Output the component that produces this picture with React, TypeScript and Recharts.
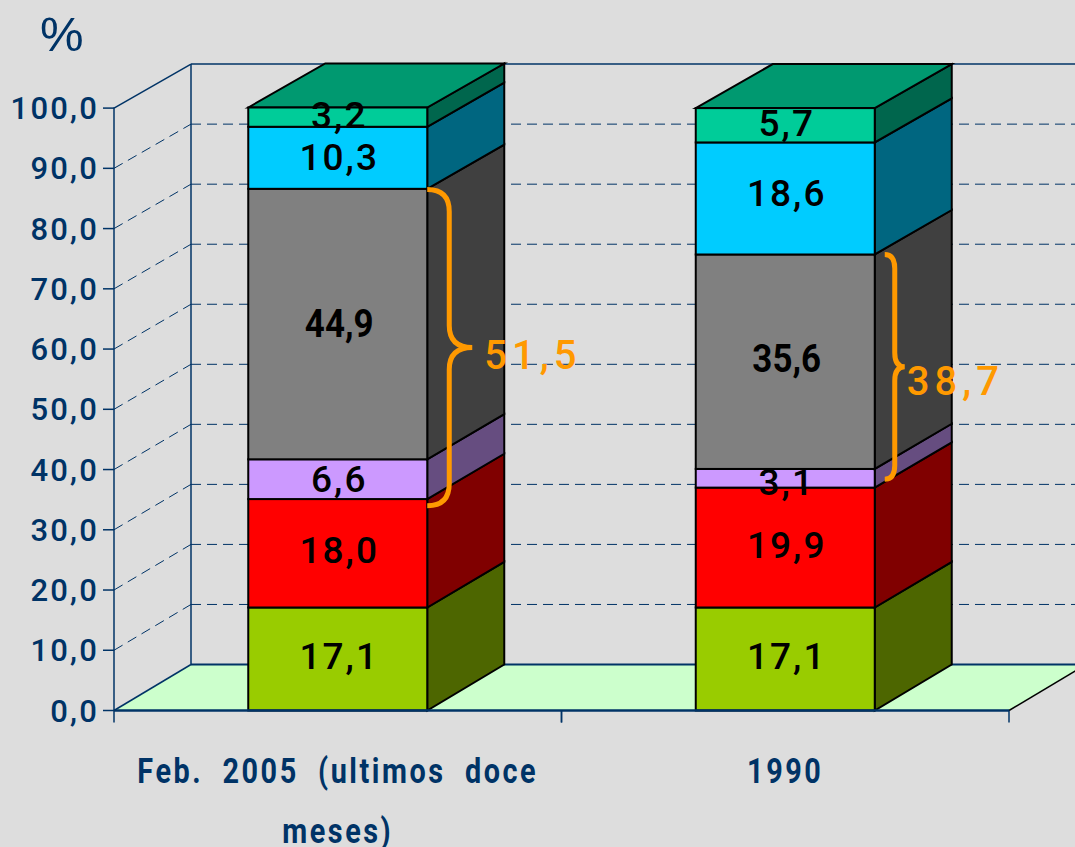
import React from 'react';
import { ComposedChart, Bar, XAxis, YAxis, LabelList, ReferenceArea, ReferenceLine } from 'recharts';

const categories = ['Feb. 2005 (ultimos doce meses)', '1990'];
const categoryLines = [['Feb. 2005 (ultimos doce', 'meses)'], ['1990']];
const seg1 = [17.1, 17.1];
const seg2 = [18.0, 19.9];
const seg3 = [6.6, 3.1];
const seg4 = [44.9, 35.6];
const seg5 = [10.3, 18.6];
const seg6 = [3.2, 5.7];
const yTicks = [0, 10, 20, 30, 40, 50, 60, 70, 80, 90, 100];
const gridTicks = [10, 20, 30, 40, 50, 60, 70, 80, 90];
const braceFrom = [34.0, 38.4];
const braceTo = [86.5, 75.7];
const braceLabels = ['51,5', '38,7'];

const W = 1075, H = 847;
const LEFT = 114, RIGHT = 1009, TOP = 107.5, BOTTOM = 710.5;
const DX = 77;
// The depth of the drawing shrinks a little from the floor to the top.
const dyAt = (y: number) => 44 + (2 * (y - TOP)) / (BOTTOM - TOP);
const NAVY = '#003366';
const ORANGE = '#FF9900';
const FONT = 'Roboto, "Liberation Sans", sans-serif';

const rows = categories.map((name, i) => ({
  name, seg1: seg1[i], seg2: seg2[i], seg3: seg3[i], seg4: seg4[i], seg5: seg5[i], seg6: seg6[i],
}));

const series = [
  { key: 'seg1', front: '#99CC00', side: '#4D6600' },
  { key: 'seg2', front: '#FF0000', side: '#800000' },
  { key: 'seg3', front: '#CC99FF', side: '#664D80' },
  { key: 'seg4', front: '#808080', side: '#404040' },
  { key: 'seg5', front: '#00CCFF', side: '#006680' },
  { key: 'seg6', front: '#00CC99', side: '#00664D', top: '#009970' },
];

const box3d = (s: any) => (p: any) => {
  const { x, y, width, height } = p;
  const r = x + width, b = y + height;
  const ty = y - dyAt(y), by = b - dyAt(b);
  return (
    <g stroke="#000" strokeWidth={2} strokeLinejoin="miter">
      <polygon points={`${r},${y} ${r + DX},${ty} ${r + DX},${by} ${r},${b}`} fill={s.side} />
      {s.top && <polygon points={`${x},${y} ${x + DX},${ty} ${r + DX},${ty} ${r},${y}`} fill={s.top} />}
      <rect x={x} y={y} width={width} height={height} fill={s.front} />
    </g>
  );
};

const fmt = (v: any) => Number(v).toFixed(1).replace('.', ',');

// Floor and back walls: the area spans the whole value range of the plot.
const Walls = (p: any) => {
  const { x, y, width, height } = p;
  const l = x, r = x + width, t = y, b = y + height;
  const bb = b - dyAt(b), tt = t - dyAt(t);
  return (
    <g>
      <polygon points={`${l},${b} ${l + DX},${bb} ${r + DX},${bb} ${r},${b}`} fill="#CCFFCC" />
      <line x1={r} y1={b} x2={r + DX} y2={bb} stroke="#000" strokeWidth={1.5} />
      <line x1={l} y1={b} x2={l + DX} y2={bb} stroke={NAVY} strokeWidth={1.5} />
      <line x1={l + DX} y1={bb} x2={r + DX} y2={bb} stroke={NAVY} strokeWidth={2} />
      <line x1={l + DX} y1={bb} x2={l + DX} y2={tt} stroke={NAVY} strokeWidth={1.5} />
      <line x1={l} y1={t} x2={l + DX} y2={tt} stroke={NAVY} strokeWidth={1.5} />
      <line x1={l + DX} y1={tt} x2={r + DX} y2={tt} stroke={NAVY} strokeWidth={1.5} />
    </g>
  );
};

const WallGrid = (p: any) => {
  const { x1, y1, x2 } = p;
  const by = y1 - dyAt(y1);
  return (
    <g stroke={NAVY} strokeWidth={1} strokeDasharray="10 6" fill="none">
      <line x1={x1} y1={y1} x2={x1 + DX} y2={by} />
      <line x1={x1 + DX} y1={by} x2={x2 + DX} y2={by} />
    </g>
  );
};

const YTick = (p: any) => {
  const { x, y, payload } = p;
  return (
    <text x={x} y={y + 11} textAnchor="end" fill={NAVY} fontFamily={FONT} fontWeight={500} fontSize={31} letterSpacing={2.2}>
      {fmt(payload.value)}
    </text>
  );
};

const XTick = (p: any) => {
  const { x, y, index } = p;
  const band = (RIGHT - LEFT) / categories.length;
  return (
    <g>
      <line x1={x - band / 2} y1={y} x2={x - band / 2} y2={y + 12} stroke={NAVY} strokeWidth={1.5} />
      <line x1={x + band / 2} y1={y} x2={x + band / 2} y2={y + 12} stroke={NAVY} strokeWidth={1.5} />
      {categoryLines[index].map((t, i) => (
        <text key={t} transform={`translate(${x},${y + 72 + i * 60}) scale(0.8,1)`} textAnchor="middle" fill={NAVY} fontFamily={FONT} fontWeight={700} fontSize={36} letterSpacing={3.2} wordSpacing={12}>
          {t}
        </text>
      ))}
    </g>
  );
};

const Brace = (i: number) => (p: any) => {
  const { x, y, width, height } = p;
  const barRight = x + width * 0.7;
  const bottom = y + height;
  const mid = y + height * 0.5;
  const x0 = i === 0 ? barRight : barRight + 10;
  const w = i === 0 ? 22 : 10;
  const tip = i === 0 ? 45 : 20;
  const r = i === 0 ? 22 : 14;
  const d = `M${x0},${y} Q${x0 + w},${y} ${x0 + w},${y + r} L${x0 + w},${mid - r} Q${x0 + w},${mid} ${x0 + tip},${mid} Q${x0 + w},${mid} ${x0 + w},${mid + r} L${x0 + w},${bottom - r} Q${x0 + w},${bottom} ${x0},${bottom}`;
  return (
    <g>
      <path d={d} fill="none" stroke={ORANGE} strokeWidth={5} />
      <text x={i === 0 ? barRight + 57 : barRight + 32} y={i === 0 ? mid + 21 : mid + 28} fill={ORANGE} fontFamily={FONT} fontWeight={500} fontSize={40} letterSpacing={5}>
        {braceLabels[i]}
      </text>
    </g>
  );
};

const labelNudge: Record<string, number> = { '18,6': -5, '3,1': 4, '18,0': -3, '19,9': -3, '5,7': -2, '10,3': -1, '17,1': -3, '3,2': -2, '35,6': -3 };

const SegLabel = (isBold: boolean) => (p: any) => {
  const { x, y, width, height, value } = p;
  const t = fmt(value);
  const cx = x + width / 2 + 1.5;
  const cy = y + height / 2 + 13 + (labelNudge[t] || 0);
  if (isBold) {
    return (
      <text transform={`translate(${cx},${cy}) scale(0.92,1)`} textAnchor="middle" fill="#000" fontFamily={FONT} fontWeight={700} fontSize={38}>
        {t}
      </text>
    );
  }
  return (
    <text x={cx} y={cy} textAnchor="middle" fill="#000" fontFamily={FONT} fontWeight={500} fontSize={37} letterSpacing={2}>
      {t}
    </text>
  );
};

export default function App() {
  return (
    <div style={{ position: 'fixed', left: 0, top: 0, width: W, height: H, background: '#DDDDDD', overflow: 'hidden' }}>
      <ComposedChart
        width={W}
        height={H}
        data={rows}
        barCategoryGap="30%"
        margin={{ top: TOP, right: W - RIGHT, bottom: 0, left: 0 }}
      >
        <YAxis
          type="number"
          domain={[0, 100]}
          ticks={yTicks}
          interval={0}
          width={LEFT}
          tick={YTick}
          tickSize={11}
          tickMargin={4}
          axisLine={{ stroke: NAVY, strokeWidth: 1.5 }}
          tickLine={{ stroke: NAVY, strokeWidth: 1.5 }}
        />
        <XAxis
          dataKey="name"
          height={H - BOTTOM}
          tick={XTick}
          tickSize={0}
          tickMargin={0}
          tickLine={false}
          interval={0}
          axisLine={{ stroke: NAVY, strokeWidth: 2.5 }}
        />
        <ReferenceArea y1={0} y2={100} ifOverflow="visible" shape={Walls} zIndex={-20} />
        {gridTicks.map((t) => (
          <ReferenceLine key={t} y={t} ifOverflow="visible" shape={WallGrid} zIndex={-10} />
        ))}
        {series.map((s) => (
          <Bar key={s.key} dataKey={s.key} stackId="a" isAnimationActive={false} shape={box3d(s)}>
            <LabelList dataKey={s.key} position="center" content={SegLabel(s.key === 'seg4')} />
          </Bar>
        ))}
        {categories.map((c, i) => (
          <ReferenceArea key={c} x1={c} x2={c} y1={braceFrom[i]} y2={braceTo[i]} ifOverflow="visible" shape={Brace(i)} zIndex={2000} />
        ))}
        <text x={40} y={51} fill={NAVY} fontFamily='"Liberation Sans", sans-serif' fontSize={49}>%</text>
      </ComposedChart>
    </div>
  );
}
